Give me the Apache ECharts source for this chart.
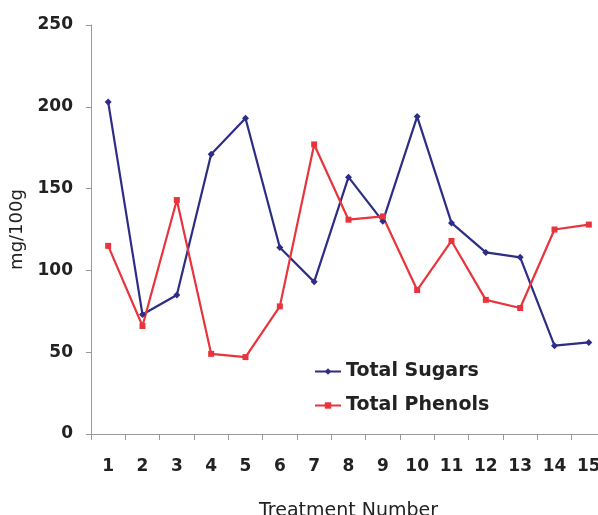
<!DOCTYPE html>
<html>
<head>
    <meta charset="UTF-8">
    <title></title>
    <style>
        html, body { margin: 0; padding: 0; background: #fff; overflow: hidden; }
        #container { width: 598px; height: 515px; }
    </style>
</head>
<body>
    <div id="container"></div>
    <script type="text/javascript" src="https://cdn.jsdelivr.net/npm/echarts@6/dist/echarts.min.js"></script>
    <script>
        var treatments = ['1','2','3','4','5','6','7','8','9','10','11','12','13','14','15'];
        var totalSugars = [203, 73, 85, 171, 193, 114, 93, 157, 130, 194, 129, 111, 108, 54, 56];
        var totalPhenols = [115, 66, 143, 49, 47, 78, 177, 131, 133, 88, 118, 82, 77, 125, 128];

        var font = 'DejaVu Sans';
        var myChart = echarts.init(document.getElementById('container'));
        myChart.setOption({
            animation: false,
            backgroundColor: '#fff',
            grid: {
                left: 91,
                top: 25,
                right: -8,
                bottom: 81,
                containLabel: false,
                outerBoundsMode: 'none'
            },
            legend: {
                orient: 'vertical',
                left: 314,
                top: 362,
                padding: 0,
                itemWidth: 26,
                itemHeight: 8,
                itemGap: 15,
                textStyle: { fontFamily: font, fontSize: 19, fontWeight: 'bold', color: '#222' },
                data: ['Total Sugars', 'Total Phenols']
            },
            xAxis: {
                type: 'category',
                data: treatments,
                name: 'Treatment Number',
                nameLocation: 'middle',
                nameGap: 68,
                nameTextStyle: { fontFamily: font, fontSize: 19, color: '#222' },
                axisLine: { lineStyle: { color: '#999', width: 1 } },
                axisTick: { show: true, length: 6, lineStyle: { color: '#999' } },
                axisLabel: { margin: 24, fontFamily: font, fontSize: 17, fontWeight: 'bold', color: '#222' }
            },
            yAxis: {
                type: 'value',
                min: 0,
                max: 250,
                interval: 50,
                name: 'mg/100g',
                nameLocation: 'middle',
                nameGap: 51,
                nameTextStyle: { fontFamily: font, fontSize: 18, color: '#222' },
                axisLine: { show: true, lineStyle: { color: '#999', width: 1 } },
                axisTick: { show: true, length: 5, lineStyle: { color: '#999' } },
                splitLine: { show: false },
                axisLabel: { margin: 18, fontFamily: font, fontSize: 17, fontWeight: 'bold', color: '#222' }
            },
            series: [
                {
                    name: 'Total Sugars',
                    type: 'line',
                    data: totalSugars,
                    symbol: 'diamond',
                    symbolSize: 7,
                    showAllSymbol: true,
                    color: '#2c2d84',
                    lineStyle: { width: 2.2, color: '#2c2d84' },
                    itemStyle: { color: '#2c2d84' }
                },
                {
                    name: 'Total Phenols',
                    type: 'line',
                    data: totalPhenols,
                    symbol: 'rect',
                    symbolSize: 6,
                    showAllSymbol: true,
                    color: '#e8343c',
                    lineStyle: { width: 2.2, color: '#e8343c' },
                    itemStyle: { color: '#e8343c' }
                }
            ]
        });
    </script>
</body>
</html>
